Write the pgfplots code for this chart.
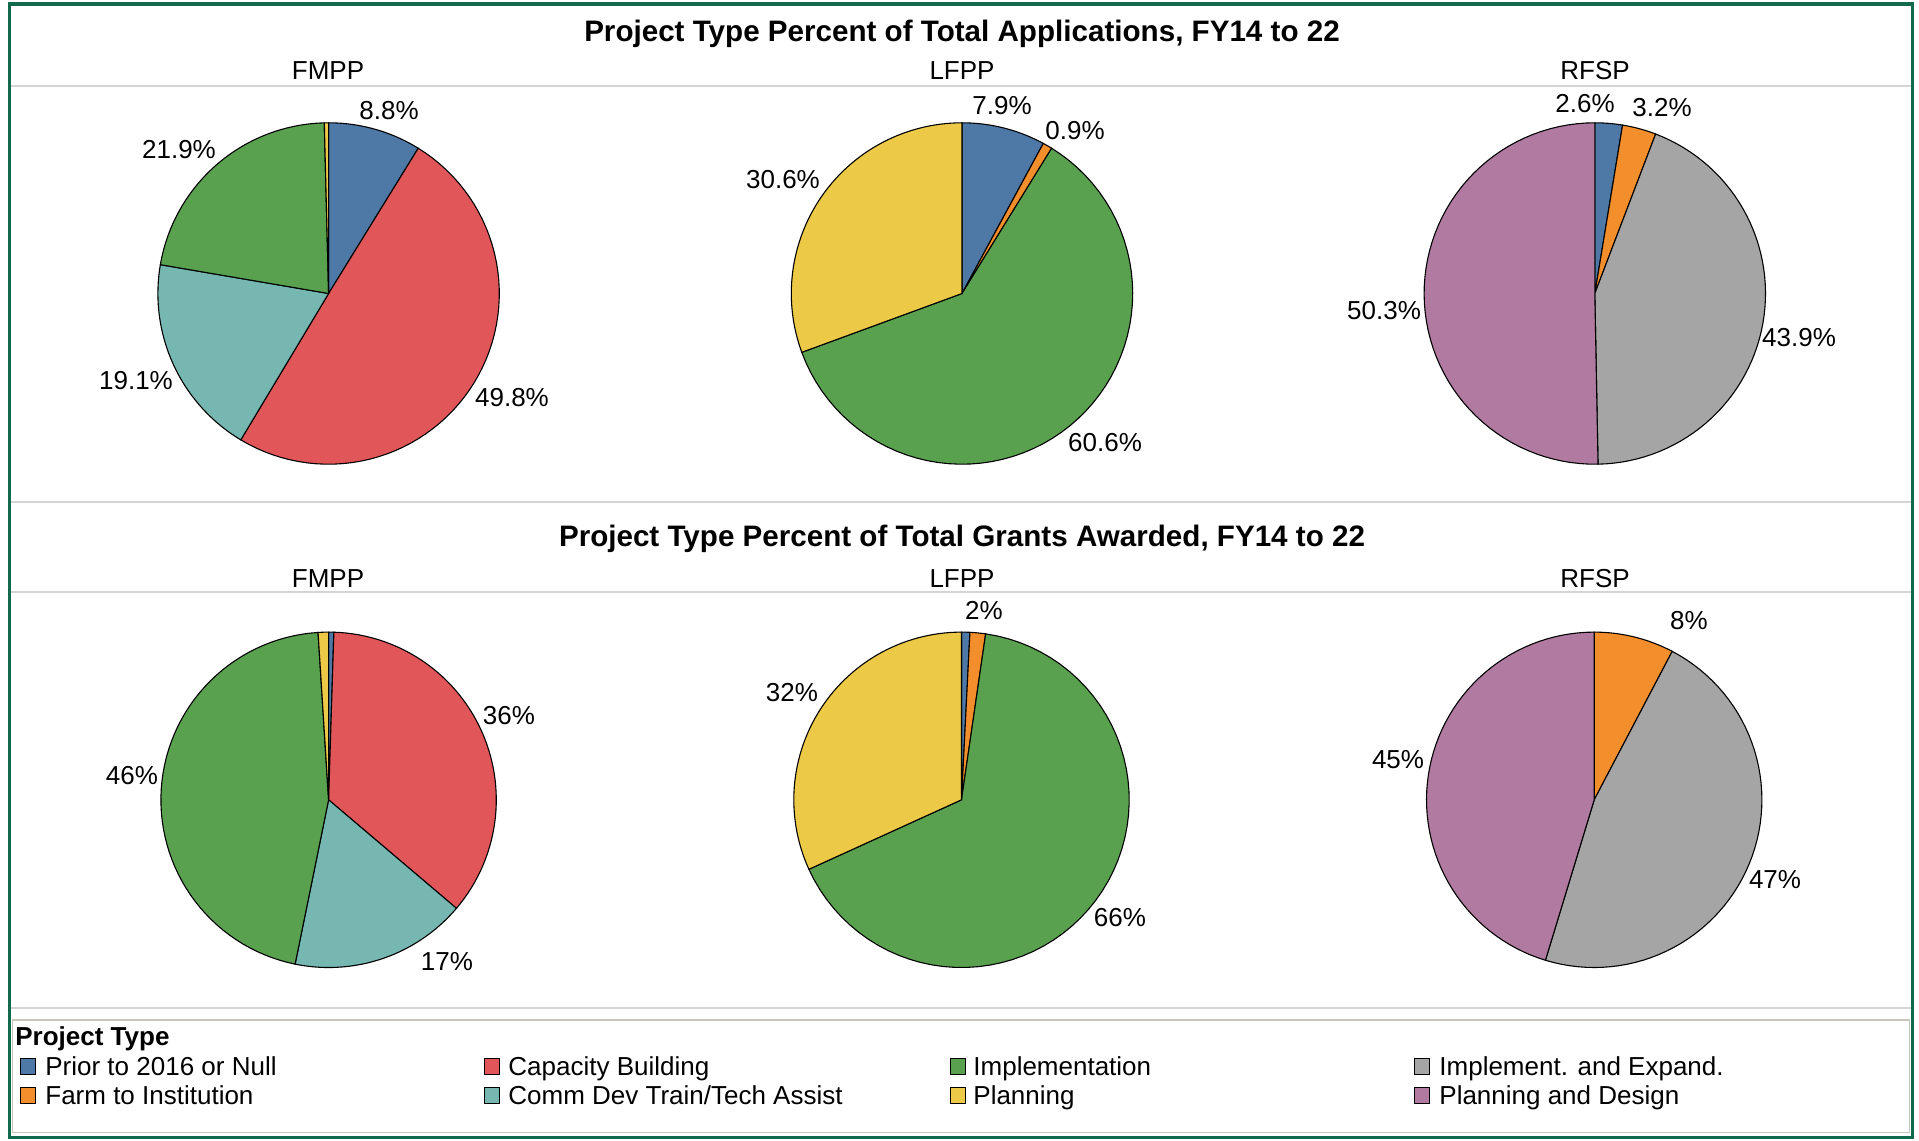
\documentclass[border=0pt]{standalone}
\usepackage{pgfplots}
\pgfplotsset{compat=1.18}
\usepackage{fontspec}
\setmainfont{Liberation Sans}
\definecolor{cBlue}{HTML}{4E79A7}
\definecolor{cOrange}{HTML}{F28E2B}
\definecolor{cRed}{HTML}{E15759}
\definecolor{cTeal}{HTML}{76B7B2}
\definecolor{cGreen}{HTML}{59A14F}
\definecolor{cYellow}{HTML}{EDC948}
\definecolor{cGray}{HTML}{A5A5A5}
\definecolor{cPurple}{HTML}{B07AA1}
\definecolor{frameGreen}{HTML}{106A4B}
\definecolor{sepGray}{HTML}{D4D4D4}
\definecolor{boxGray}{HTML}{C8C6B8}
% slice: cx, cy, r, start %, end %, colour
\newcommand{\slice}[6]{%
  \addplot[draw=black, line width=0.55pt, fill=#6, domain=#4:#5, samples=61]
    ({#1+#3*sin(3.6*x)}, {#2-#3*cos(3.6*x)}) -- (axis cs:#1,#2) -- cycle;
}
\tikzset{
  lbl/.style={font=\fontsize{13}{15}\selectfont, inner sep=0pt, anchor=center},
  ttl/.style={font=\fontsize{14.8}{17}\selectfont\bfseries, inner sep=0pt, anchor=center},
  leg/.style={font=\fontsize{13}{15}\selectfont, inner sep=0pt, anchor=base west},
}
\begin{document}
\begin{tikzpicture}
\begin{axis}[
  width=959.5pt, height=570pt, scale only axis,
  xmin=0, xmax=1919, ymin=0, ymax=1140, y dir=reverse,
  hide axis, clip=false]
% background and frame
\path[fill=white] (axis cs:0,0) rectangle (axis cs:1919,1140);
% separator lines
\draw[sepGray, line width=1pt] (axis cs:11,86) -- (axis cs:1911,86);
\draw[sepGray, line width=1pt] (axis cs:11,502) -- (axis cs:1911,502);
\draw[sepGray, line width=1pt] (axis cs:11,592) -- (axis cs:1911,592);
\draw[sepGray, line width=1pt] (axis cs:11,1008) -- (axis cs:1911,1008);
\draw[boxGray, line width=0.8pt] (axis cs:12.5,1020) rectangle (axis cs:1909.5,1132.5);
% titles
\node[ttl] at (axis cs:962,34) {Project Type Percent of Total Applications, FY14 to 22};
\node[ttl] at (axis cs:962,539) {Project Type Percent of Total Grants Awarded, FY14 to 22};
\node[lbl] at (axis cs:328,71) {FMPP};
\node[lbl] at (axis cs:962,71) {LFPP};
\node[lbl] at (axis cs:1595,71) {RFSP};
\node[lbl] at (axis cs:328,579) {FMPP};
\node[lbl] at (axis cs:962,579) {LFPP};
\node[lbl] at (axis cs:1595,579) {RFSP};
% --- Applications: FMPP (8.8, 49.8, 19.1, 21.9, 0.4)
\slice{328.6}{293.5}{170.7}{0}{8.8}{cBlue}
\slice{328.6}{293.5}{170.7}{8.8}{58.6}{cRed}
\slice{328.6}{293.5}{170.7}{58.6}{77.7}{cTeal}
\slice{328.6}{293.5}{170.7}{77.7}{99.6}{cGreen}
\slice{328.6}{293.5}{170.7}{99.6}{100}{cYellow}
% --- Applications: LFPP (7.9, 0.9, 60.6, 30.6)
\slice{962}{293.5}{170.7}{0}{7.9}{cBlue}
\slice{962}{293.5}{170.7}{7.9}{8.8}{cOrange}
\slice{962}{293.5}{170.7}{8.8}{69.4}{cGreen}
\slice{962}{293.5}{170.7}{69.4}{100}{cYellow}
% --- Applications: RFSP (2.6, 3.2, 43.9, 50.3)
\slice{1594.8}{293.5}{170.7}{0}{2.6}{cBlue}
\slice{1594.8}{293.5}{170.7}{2.6}{5.8}{cOrange}
\slice{1594.8}{293.5}{170.7}{5.8}{49.7}{cGray}
\slice{1594.8}{293.5}{170.7}{49.7}{100}{cPurple}
% --- Grants: FMPP (0.5, 35.7, 17.0, 45.8, 1.0)
\slice{328.6}{799.8}{167.7}{0}{0.5}{cBlue}
\slice{328.6}{799.8}{167.7}{0.5}{36.2}{cRed}
\slice{328.6}{799.8}{167.7}{36.2}{53.2}{cTeal}
\slice{328.6}{799.8}{167.7}{53.2}{99.0}{cGreen}
\slice{328.6}{799.8}{167.7}{99.0}{100}{cYellow}
% --- Grants: LFPP (0.8, 1.5, 65.9, 31.8)
\slice{961.5}{799.8}{167.7}{0}{0.8}{cBlue}
\slice{961.5}{799.8}{167.7}{0.8}{2.3}{cOrange}
\slice{961.5}{799.8}{167.7}{2.3}{68.2}{cGreen}
\slice{961.5}{799.8}{167.7}{68.2}{100}{cYellow}
% --- Grants: RFSP (7.7, 47.0, 45.3)
\slice{1594.2}{799.8}{167.7}{0}{7.7}{cOrange}
\slice{1594.2}{799.8}{167.7}{7.7}{54.7}{cGray}
\slice{1594.2}{799.8}{167.7}{54.7}{100}{cPurple}
% labels
\node[lbl] at (axis cs:389,111) {8.8\%};
\node[lbl] at (axis cs:512,398) {49.8\%};
\node[lbl] at (axis cs:136,381) {19.1\%};
\node[lbl] at (axis cs:179,150) {21.9\%};
\node[lbl] at (axis cs:1002,106) {7.9\%};
\node[lbl] at (axis cs:1075,131) {0.9\%};
\node[lbl] at (axis cs:1105,443) {60.6\%};
\node[lbl] at (axis cs:783,180) {30.6\%};
\node[lbl] at (axis cs:1585,104) {2.6\%};
\node[lbl] at (axis cs:1662,108) {3.2\%};
\node[lbl] at (axis cs:1799,338) {43.9\%};
\node[lbl] at (axis cs:1384,311) {50.3\%};
\node[lbl] at (axis cs:509,716) {36\%};
\node[lbl] at (axis cs:447,962) {17\%};
\node[lbl] at (axis cs:132,776) {46\%};
\node[lbl] at (axis cs:984,610) {2\%};
\node[lbl] at (axis cs:1120,918) {66\%};
\node[lbl] at (axis cs:792,693) {32\%};
\node[lbl] at (axis cs:1689,621) {8\%};
\node[lbl] at (axis cs:1775,880) {47\%};
\node[lbl] at (axis cs:1398,760) {45\%};
% legend
\node[leg, font=\fontsize{13}{15}\selectfont\bfseries] at (axis cs:15,1045) {Project Type};
\filldraw[fill=cBlue, draw=black, line width=0.5pt] (axis cs:20,1058) rectangle (axis cs:35,1074);
\node[leg] at (axis cs:45,1075) {Prior to 2016 or Null};
\filldraw[fill=cOrange, draw=black, line width=0.5pt] (axis cs:20,1087) rectangle (axis cs:35,1103);
\node[leg] at (axis cs:45,1104) {Farm to Institution};
\filldraw[fill=cRed, draw=black, line width=0.5pt] (axis cs:484,1058) rectangle (axis cs:499,1074);
\node[leg] at (axis cs:508,1075) {Capacity Building};
\filldraw[fill=cTeal, draw=black, line width=0.5pt] (axis cs:484,1087) rectangle (axis cs:499,1103);
\node[leg] at (axis cs:508,1104) {Comm Dev Train/Tech Assist};
\filldraw[fill=cGreen, draw=black, line width=0.5pt] (axis cs:950,1058) rectangle (axis cs:965,1074);
\node[leg] at (axis cs:973,1075) {Implementation};
\filldraw[fill=cYellow, draw=black, line width=0.5pt] (axis cs:950,1087) rectangle (axis cs:965,1103);
\node[leg] at (axis cs:973,1104) {Planning};
\filldraw[fill=cGray, draw=black, line width=0.5pt] (axis cs:1414,1058) rectangle (axis cs:1429,1074);
\node[leg] at (axis cs:1439,1075) {Implement. and Expand.};
\filldraw[fill=cPurple, draw=black, line width=0.5pt] (axis cs:1414,1087) rectangle (axis cs:1429,1103);
\node[leg] at (axis cs:1439,1104) {Planning and Design};
% frame
\draw[frameGreen, line width=1.5pt] (axis cs:9.5,4) rectangle (axis cs:1912.5,1137.5);
\end{axis}
\end{tikzpicture}
\end{document}
